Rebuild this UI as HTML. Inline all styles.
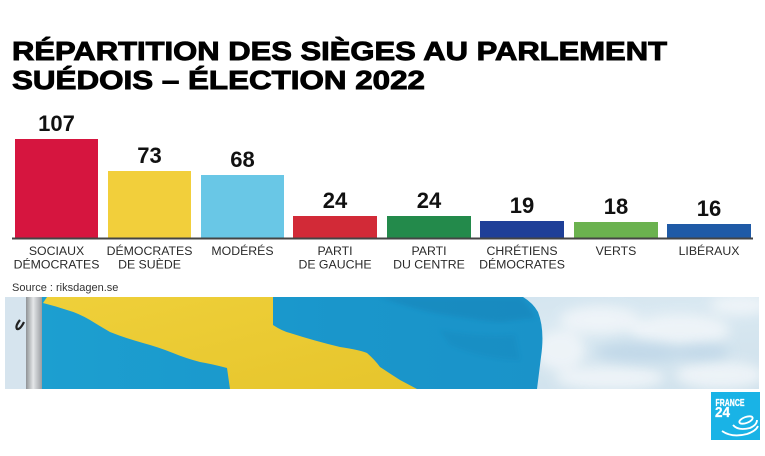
<!DOCTYPE html>
<html><head><meta charset="utf-8">
<style>
html,body{margin:0;padding:0;background:#fff;}
svg{display:block;}
text{font-family:"Liberation Sans",Arial,sans-serif;}
</style></head>
<body>
<svg width="765" height="456" viewBox="0 0 765 456" xmlns="http://www.w3.org/2000/svg">
<defs>
  <linearGradient id="sky" x1="0" y1="0" x2="1" y2="1">
    <stop offset="0" stop-color="#c9deec"/>
    <stop offset="0.5" stop-color="#d9e8f1"/>
    <stop offset="1" stop-color="#cfe1ec"/>
  </linearGradient>
  <linearGradient id="pole" x1="0" y1="0" x2="1" y2="0">
    <stop offset="0" stop-color="#8f9396"/>
    <stop offset="0.45" stop-color="#e4e6e8"/>
    <stop offset="1" stop-color="#9a9ea2"/>
  </linearGradient>
  <linearGradient id="blue" x1="0" y1="0" x2="1" y2="0">
    <stop offset="0" stop-color="#1c9fd0"/>
    <stop offset="0.6" stop-color="#1a96cb"/>
    <stop offset="1" stop-color="#1a93c9"/>
  </linearGradient>
  <linearGradient id="yel" x1="0" y1="0" x2="1" y2="1">
    <stop offset="0" stop-color="#efd03a"/>
    <stop offset="1" stop-color="#e6c52c"/>
  </linearGradient>
  <filter id="blur" x="-20%" y="-50%" width="140%" height="200%"><feGaussianBlur stdDeviation="6"/></filter>
  <filter id="blur2"><feGaussianBlur stdDeviation="2"/></filter>
  <clipPath id="photo"><rect x="5" y="297" width="754" height="92"/></clipPath>
</defs>

<rect width="765" height="456" fill="#ffffff"/>

<!-- Title -->
<text x="12" y="60" font-size="26" font-weight="bold" fill="#000" stroke="#000" stroke-width="0.9" textLength="655" lengthAdjust="spacingAndGlyphs">RÉPARTITION DES SIÈGES AU PARLEMENT</text>
<text x="12" y="89" font-size="26" font-weight="bold" fill="#000" stroke="#000" stroke-width="0.9" textLength="413" lengthAdjust="spacingAndGlyphs">SUÉDOIS – ÉLECTION 2022</text>

<!-- Bars -->
<rect x="15" y="139" width="83" height="99" fill="#d6153f"/>
<rect x="108" y="171" width="83" height="67" fill="#f2cf3b"/>
<rect x="201" y="175" width="83" height="63" fill="#69c7e6"/>
<rect x="293" y="216" width="84" height="22" fill="#d22a37"/>
<rect x="387" y="216" width="84" height="22" fill="#238a4b"/>
<rect x="480" y="221" width="84" height="17" fill="#1f3f98"/>
<rect x="574" y="222" width="84" height="16" fill="#6bb24f"/>
<rect x="667" y="224" width="84" height="14" fill="#1f5aa6"/>

<!-- axis -->
<rect x="12" y="237.5" width="741" height="2" fill="#444"/>

<!-- Values -->
<g font-size="22" font-weight="bold" fill="#111" text-anchor="middle">
  <text x="56.5" y="131">107</text>
  <text x="149.5" y="163">73</text>
  <text x="242.5" y="167">68</text>
  <text x="335" y="208">24</text>
  <text x="429" y="208">24</text>
  <text x="522" y="213">19</text>
  <text x="616" y="214">18</text>
  <text x="709" y="216">16</text>
</g>

<!-- Category labels -->
<g font-size="12.3" fill="#2a2a2a" text-anchor="middle">
  <text x="56.5" y="255">SOCIAUX</text>
  <text x="56.5" y="268.5">DÉMOCRATES</text>
  <text x="149.5" y="255">DÉMOCRATES</text>
  <text x="149.5" y="268.5">DE SUÈDE</text>
  <text x="242.5" y="255">MODÉRÉS</text>
  <text x="335" y="255">PARTI</text>
  <text x="335" y="268.5">DE GAUCHE</text>
  <text x="429" y="255">PARTI</text>
  <text x="429" y="268.5">DU CENTRE</text>
  <text x="522" y="255">CHRÉTIENS</text>
  <text x="522" y="268.5">DÉMOCRATES</text>
  <text x="616" y="255">VERTS</text>
  <text x="709" y="255">LIBÉRAUX</text>
</g>

<text x="12" y="291" font-size="11" fill="#333">Source : riksdagen.se</text>

<!-- Photo -->
<g clip-path="url(#photo)">
  <rect x="5" y="297" width="754" height="92" fill="url(#sky)"/>
  <g filter="url(#blur)" fill="#f2f6f9" opacity="0.85">
    <ellipse cx="600" cy="320" rx="40" ry="14"/>
    <ellipse cx="680" cy="330" rx="50" ry="16"/>
    <ellipse cx="720" cy="375" rx="45" ry="14"/>
    <ellipse cx="610" cy="378" rx="55" ry="12"/>
    <ellipse cx="560" cy="350" rx="25" ry="20"/>
    <ellipse cx="740" cy="305" rx="30" ry="10"/>
  </g>
  <g filter="url(#blur)" fill="#b9d3e6" opacity="0.7">
    <ellipse cx="640" cy="352" rx="45" ry="10"/>
    <ellipse cx="700" cy="352" rx="30" ry="8"/>
  </g>
  <!-- flag blue base -->
  <path d="M42,297 L523,297 Q533,303 538,312 Q545,330 541,357 L537,389 L42,389 Z" fill="url(#blue)"/>
  <!-- darker folds -->
  <path d="M380,297 L520,297 Q530,305 535,318 L500,322 Q460,318 430,312 Q400,305 380,297 Z" fill="#137cb0" opacity="0.35" filter="url(#blur2)"/>
  <path d="M440,330 Q480,338 515,335 L520,360 Q480,358 450,345 Z" fill="#1484b9" opacity="0.3" filter="url(#blur2)"/>
  <!-- yellow cross -->
  <path d="M47,297 L273,297 L273,325 Q282,331 290,333 Q315,341 340,347 Q360,350 367,353 Q375,360 380,367 Q392,375 400,380 L417,389 L230,389 L227,368 Q212,364 200,362 Q185,358 173,353 Q158,347 143,343 Q125,338 110,332 Q98,325 90,320 Q78,313 67,310 Q55,306 43,303 Z" fill="url(#yel)"/>
  <!-- pole -->
  <rect x="5" y="297" width="21" height="92" fill="#d6e4ee"/>
  <rect x="26" y="297" width="16" height="92" fill="url(#pole)"/>
  <path d="M20,320 Q15,326 17,329 Q20,330 24,322" stroke="#222" stroke-width="2.2" fill="none"/>
</g>

<!-- Logo -->
<rect x="711" y="392" width="49" height="48" fill="#19b3e6"/>
<text x="715.5" y="406" font-size="10" font-weight="bold" fill="#fff" stroke="#fff" stroke-width="0.3" textLength="29" lengthAdjust="spacingAndGlyphs">FRANCE</text>
<text x="715" y="417" font-size="14.5" font-weight="bold" fill="#fff" stroke="#fff" stroke-width="0.3" textLength="15" lengthAdjust="spacingAndGlyphs">24</text>
<g fill="none" stroke="#fff" stroke-width="1.8">
  <ellipse cx="746" cy="420" rx="7" ry="3" transform="rotate(-20 746 420)"/>
  <path d="M733,425 Q738,431 750,428 Q757,425 757,420"/>
  <path d="M722,431 Q732,438 747,434 Q756,431 758,426"/>
</g>
</svg>
</body></html>
